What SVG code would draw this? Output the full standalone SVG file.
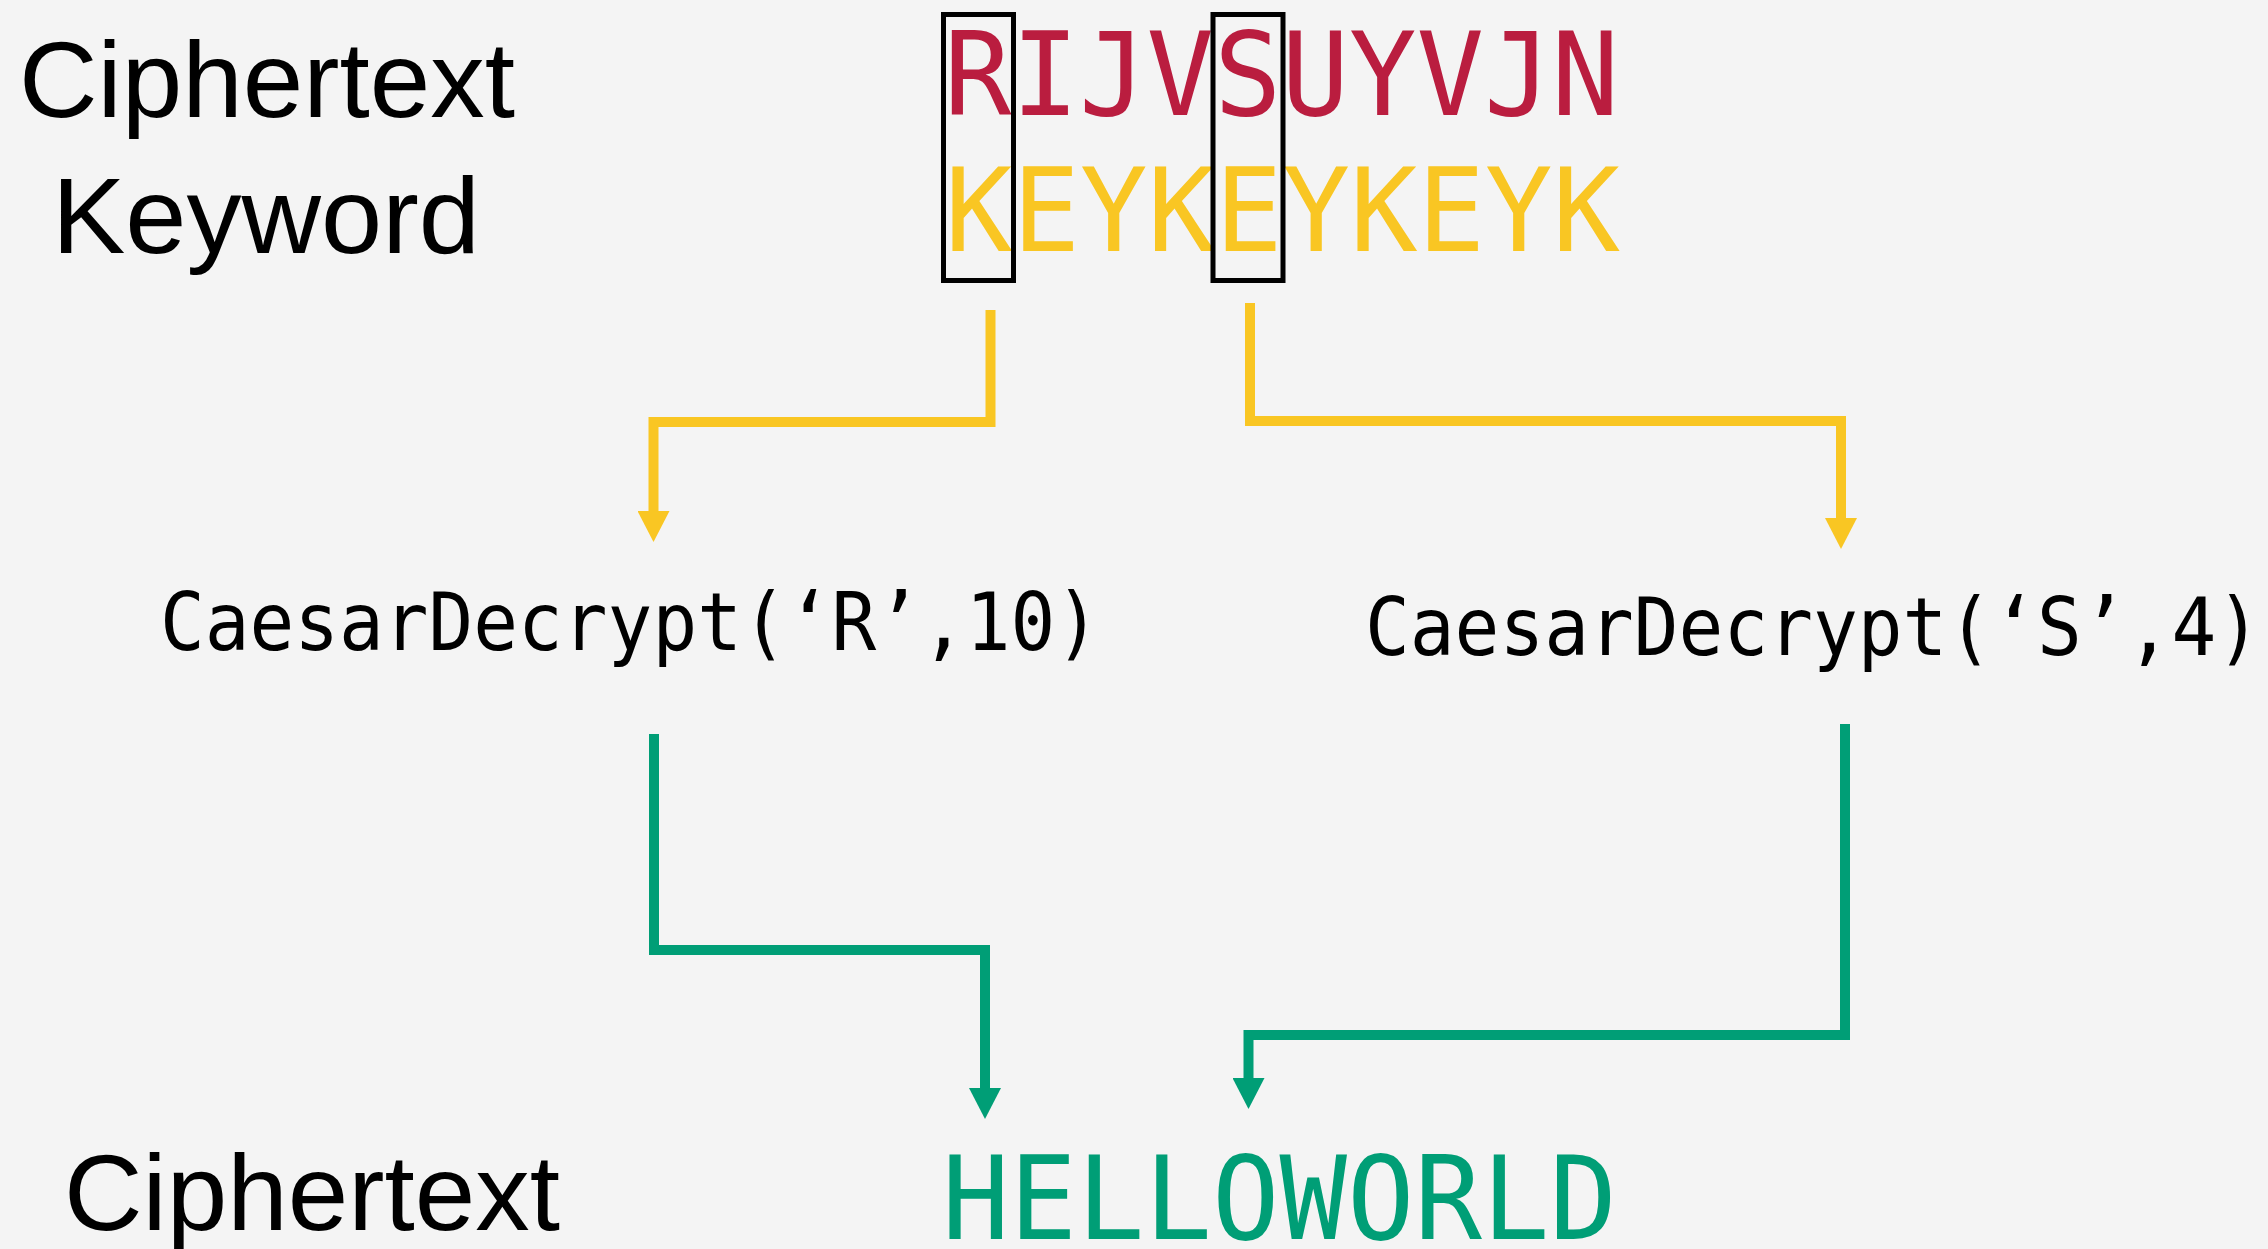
<svg xmlns="http://www.w3.org/2000/svg" width="2268" height="1249" viewBox="0 0 2268 1249">
  <defs>
    <style>
      .label { font-family: "Liberation Sans", Arial, sans-serif; font-size: 108px; fill: #000; }
      .mono { font-family: "DejaVu Sans Mono", "Liberation Mono", monospace; }
      .big { font-size: 116px; }
      .fn { font-size: 81px; fill: #000; }
      .red { fill: #BA1D3F; }
      .yellow { fill: #F9C623; }
      .green { fill: #009E76; }
      .box { fill: none; stroke: #000; stroke-width: 5; }
      .conn { fill: none; stroke-width: 10; stroke-linejoin: miter; stroke-linecap: butt; }
      .cy { stroke: #F9C623; }
      .cg { stroke: #009E76; }
    </style>
    <marker id="arrowY" markerUnits="userSpaceOnUse" markerWidth="32" markerHeight="32" viewBox="0 -16 31 32" refX="0" refY="0" orient="auto">
      <path d="M0,-16 L31,0 L0,16 z" fill="#F9C623"/>
    </marker>
    <marker id="arrowG" markerUnits="userSpaceOnUse" markerWidth="32" markerHeight="32" viewBox="0 -16 31 32" refX="0" refY="0" orient="auto">
      <path d="M0,-16 L31,0 L0,16 z" fill="#009E76"/>
    </marker>
  </defs>
  <rect x="0" y="0" width="2268" height="1249" fill="#F4F4F4"/>

  <g id="label-ciphertext-top">
    <text class="label" x="19" y="117" textLength="496" lengthAdjust="spacingAndGlyphs">Ciphertext</text>
  </g>
  <g id="label-keyword">
    <text class="label" x="52" y="253" font-size="110" textLength="428" lengthAdjust="spacingAndGlyphs">Keyword</text>
  </g>
  <g id="ciphertext-letters">
    <text class="mono big red" x="944" y="115" textLength="675" lengthAdjust="spacingAndGlyphs">RIJVSUYVJN</text>
  </g>
  <g id="keyword-letters">
    <text class="mono big yellow" x="945" y="251" textLength="675" lengthAdjust="spacingAndGlyphs">KEYKEYKEYK</text>
  </g>
  <g id="box-1">
    <rect class="box" x="943.5" y="14.5" width="70" height="266"/>
  </g>
  <g id="box-2">
    <rect class="box" x="1213" y="14.5" width="70" height="266"/>
  </g>
  <g id="decrypt-r">
    <text class="mono fn" x="160" y="650" textLength="940" lengthAdjust="spacingAndGlyphs">CaesarDecrypt(‘R’,10)</text>
  </g>
  <g id="decrypt-s">
    <text class="mono fn" x="1365" y="655" textLength="896" lengthAdjust="spacingAndGlyphs">CaesarDecrypt(‘S’,4)</text>
  </g>
  <g id="label-ciphertext-bottom">
    <text class="label" x="64" y="1230" textLength="496" lengthAdjust="spacingAndGlyphs">Ciphertext</text>
  </g>
  <g id="plaintext">
    <text class="mono green" font-size="115" x="942" y="1239" textLength="675" lengthAdjust="spacingAndGlyphs">HELLOWORLD</text>
  </g>

  <g id="connectors">
    <path class="conn cy" d="M990.5,310 V422 H653.5 V511" marker-end="url(#arrowY)"/>
    <path class="conn cy" d="M1250,303 V421 H1841 V518" marker-end="url(#arrowY)"/>
    <path class="conn cg" d="M654,734 V950 H985 V1088" marker-end="url(#arrowG)"/>
    <path class="conn cg" d="M1845,724 V1035 H1248.5 V1078" marker-end="url(#arrowG)"/>
  </g>
</svg>
